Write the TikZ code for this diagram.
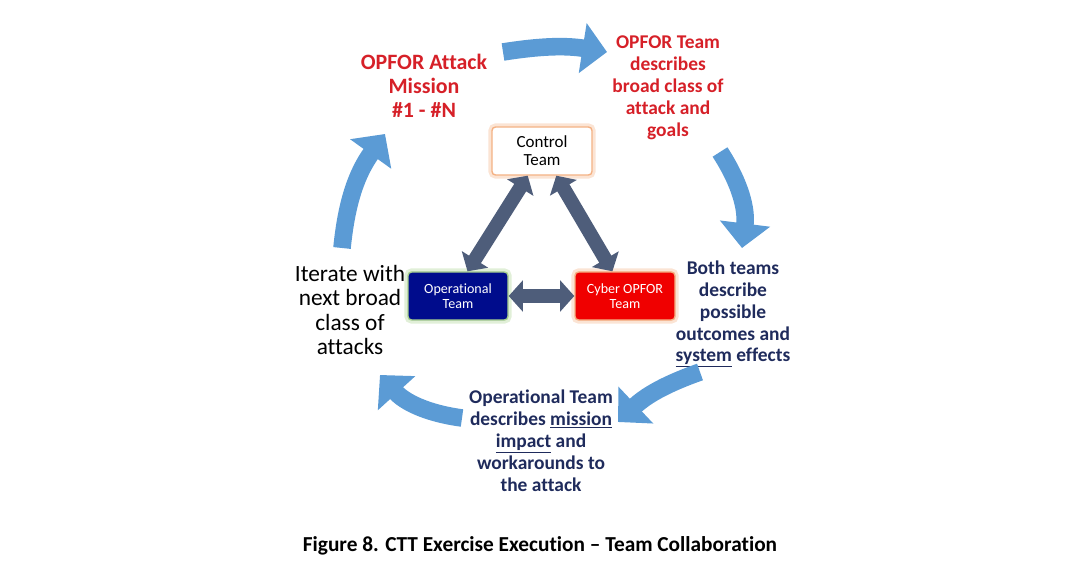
\documentclass[tikz,border=0pt]{standalone}
\usepackage{fontspec}
\setmainfont{Carlito}[Ligatures=NoCommon]
\usetikzlibrary{arrows.meta,positioning}

\definecolor{opred}{RGB}{214,32,40}
\definecolor{navytxt}{RGB}{31,43,92}
\definecolor{cycblue}{RGB}{91,155,213}
\definecolor{slate}{RGB}{78,93,122}
\definecolor{opbox}{RGB}{0,12,140}
\definecolor{cybox}{RGB}{240,0,0}
\definecolor{peach}{RGB}{244,177,131}
\definecolor{lgreen}{RGB}{169,209,142}

\tikzset{
	team/.style={minimum width=3cm, minimum height=1.44cm, rounded corners=3pt, align=center,
		draw=#1, line width=1.2pt, preaction={draw=#1, line width=6pt, opacity=0.35}},
	cyclearrow/.style={cycblue, line width=15pt, -{Triangle[width=42pt,length=21pt]}},
	teamlink/.style={slate, line width=12pt, {Triangle[width=26pt,length=12pt]}-{Triangle[width=26pt,length=12pt]}},
	steptext/.style={align=center, font=\bfseries\fontsize{16.6}{18.7}\selectfont},
}

\begin{document}
\begin{tikzpicture}[x=0.03cm, y=0.03cm]
	\useasboundingbox (0,0) rectangle (1080,-566);
	% the three teams
	\node [team=peach, fill=white, font=\fontsize{14.5}{15.3}\selectfont] (ctrl) at (542,-151) {Control\\Team};
	\node [team=lgreen, fill=opbox, text=white, font=\fontsize{12}{12.8}\selectfont] (op) at (458,-296) {Operational\\Team};
	\node [team=peach, fill=cybox, text=white, font=\fontsize{12}{12.8}\selectfont] (cy) at (625,-296) {Cyber OPFOR\\Team};
	\draw [teamlink] (ctrl.240) -- (op.69);
	\draw [teamlink] (ctrl.300) -- (cy.117);
	\draw [teamlink] (op.east) -- (cy.west);
	% steps of the cycle
	\node [steptext, text=opred, font=\bfseries\fontsize{18.7}{20.4}\selectfont] (mission) at (424,-86) {OPFOR Attack\\Mission\\\#1 - \#N};
	\node [steptext, text=opred] (describe) at (668,-88) {OPFOR Team\\describes\\broad class of\\attack and\\goals};
	\node [steptext, text=navytxt] (outcomes) at (733,-314) {Both teams\\describe\\possible\\outcomes and\\\underline{system} effects};
	\node [steptext, text=navytxt] (impact) at (541,-441) {Operational Team\\describes \underline{mission}\\\underline{impact} and\\workarounds to\\the attack};
	\node [align=center, font=\fontsize{19.9}{20.7}\selectfont] (iterate) at (350,-310) {Iterate with\\next broad\\class of\\attacks};
	% cycle arrows
	\coordinate (a1s) at (503,-52);  \coordinate (a1e) at (607,-52);
	\coordinate (a2s) at (720,-152); \coordinate (a2e) at (742,-248);
	\coordinate (a3s) at (700,-372); \coordinate (a3e) at (618,-422);
	\coordinate (a4s) at (462,-418); \coordinate (a4e) at (380,-375);
	\coordinate (a5s) at (342,-248); \coordinate (a5e) at (385,-134);
	\draw [cyclearrow] (a1s) to[bend left=9] (a1e);
	\draw [cyclearrow] (a2s) to[bend left=20] (a2e);
	\draw [cyclearrow] (a3s) to[bend right=12] (a3e);
	\draw [cyclearrow] (a4s) to[bend left=20] (a4e);
	\draw [cyclearrow] (a5s) to[bend left=15] (a5e);
	\node [font=\bfseries\fontsize{18.2}{20}\selectfont] (caption) at (540,-546) {Figure 8. CTT Exercise Execution – Team Collaboration};
\end{tikzpicture}
\end{document}
